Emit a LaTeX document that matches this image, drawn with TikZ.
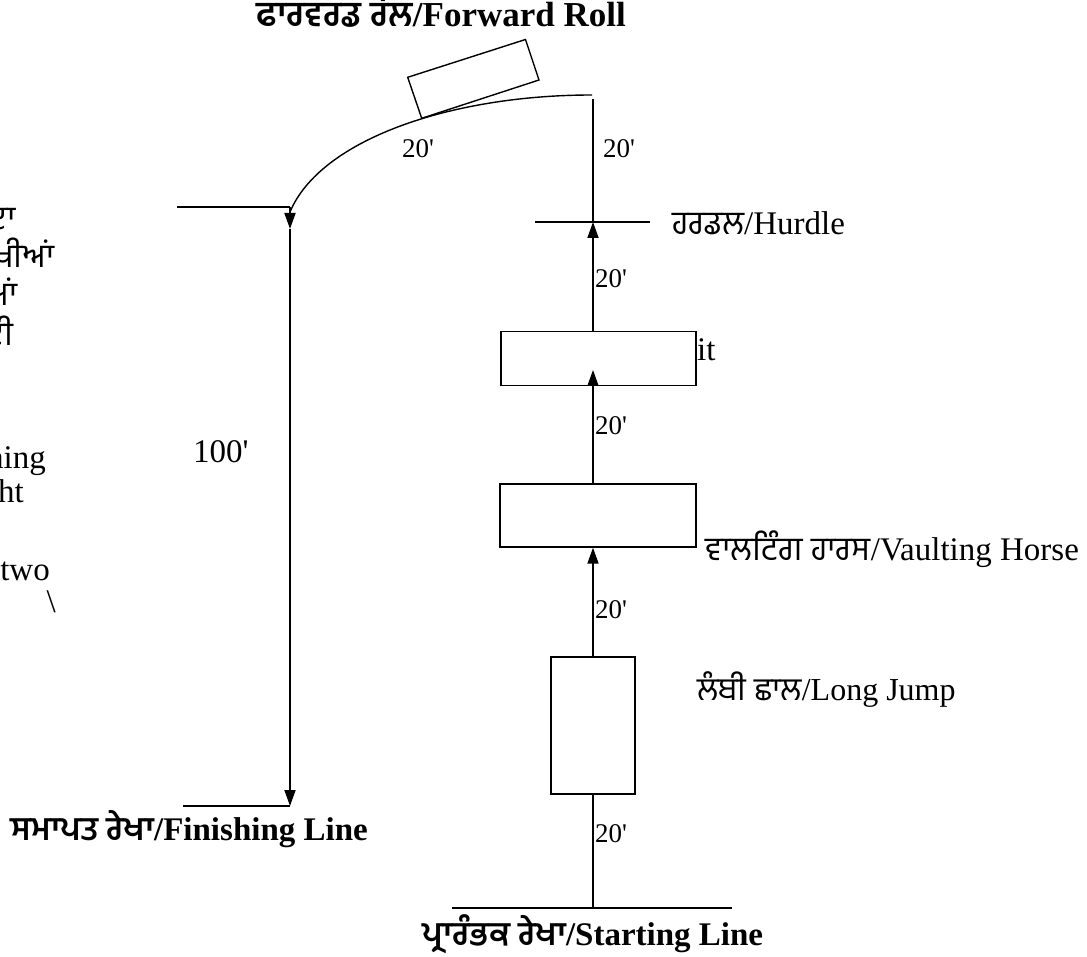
\documentclass[tikz,border=0pt]{standalone}
\usepackage{fontspec}
\setmainfont{Liberation Serif}[Ligatures=TeXOff]
\newfontfamily\pa[Script=Gurmukhi]{Hind Jalandhar}
\usetikzlibrary{arrows.meta}
\begin{document}
\begin{tikzpicture}[x=1pt,y=-1pt,
  ln/.style={line width=1.4pt},
  arr/.style={line width=1.8pt,-{Triangle[length=16pt,width=11pt]}},
  lbl/.style={inner sep=0pt,font=\fontsize{33}{38}\selectfont},
  ljl/.style={inner sep=0pt,font=\fontsize{32}{37}\selectfont},
  small/.style={inner sep=0pt,font=\fontsize{27}{32}\selectfont},
  bold/.style={inner sep=0pt,font=\fontsize{33}{38}\selectfont\bfseries},
  title/.style={inner sep=0pt,font=\fontsize{35}{40}\selectfont\bfseries},
  box/.style={draw,line width=1.4pt,fill=white,inner sep=0pt}]
\useasboundingbox (0,0) rectangle (1087,957);
% texts behind
\node[lbl,anchor=base west] (itlbl) at (697,361) {it};
% title
\node[title,anchor=base east] (ttl) at (626,27) {{\pa ਫਾਰਵਰਡ ਰੋਲ}/Forward Roll};
% mat
\draw[ln] (407.7,77.3) -- (525.5,39.5) -- (539,80) -- (421.7,118.3) -- cycle;
% curve
\coordinate (cs) at (290,212);
\coordinate (ce) at (592,95);
\draw[ln] (cs) .. controls (320,140) and (450,95) .. (ce);
% left lines
\coordinate (lt1) at (177,207);
\coordinate (lt2) at (290,207);
\coordinate (la) at (290,229);
\coordinate (lb) at (290,806);
\coordinate (lf1) at (183,806);
\draw[ln] (lt1) -- (lt2);
\draw[arr] (lt2) -- (la);
\draw[arr] (la) -- (lb);
\draw[ln] (lf1) -- (lb);
\node[lbl,anchor=base west] (hund) at (193,462) {100'};
\node[bold,anchor=base east] (finish) at (368,840) {{\pa ਸਮਾਪਤ ਰੇਖਾ}/Finishing Line};
% left clipped paragraph
\node[lbl,anchor=base east] (p1) at (16,230) {\pa ਹੁੰਦਾ};
\node[lbl,anchor=base east] (p2) at (55,268) {\pa ਰੱਖੀਆਂ};
\node[lbl,anchor=base east] (p3) at (18,306) {\pa ਦੂਰੀਆਂ};
\node[lbl,anchor=base east] (p4) at (14,346) {\pa ਦੀ};
\node[lbl,anchor=base east] (p5) at (46,468) {finishing};
\node[lbl,anchor=base east] (p6) at (24,502) {height};
\node[lbl,anchor=base east] (p7) at (50,580) {two};
\node[lbl,anchor=base east] (p8) at (56,612) {\textbackslash};
% right column
\coordinate (top) at (593,99);
\coordinate (hur) at (593,222);
\coordinate (h1) at (535,222);
\coordinate (h2) at (650,222);
\node[box,minimum width=195pt,minimum height=54pt] (b1) at (598.5,358.7) {};
\node[box,minimum width=196pt,minimum height=63pt] (b2) at (598,515.5) {};
\node[box,minimum width=84pt,minimum height=137pt] (b3) at (593,725.5) {};
\coordinate (a1) at (593,370);
\coordinate (st) at (593,908);
\coordinate (s1) at (452,908);
\coordinate (s2) at (732,908);
\draw[ln] (top) -- (hur);
\draw[ln] (h1) -- (h2);
\draw[arr] (593,331.7) -- (hur);
\draw[arr] (b2.north -| 593,0) -- (a1);
\draw[arr] (b3.north) -- (b2.south -| 593,0);
\draw[ln] (st) -- (b3.south);
\draw[ln] (s1) -- (s2);
% labels
\node[small,anchor=base west] (t1) at (402,158) {20'};
\node[small,anchor=base west] (t2) at (603,158) {20'};
\node[small,anchor=base west] (t3) at (595,288) {20'};
\node[small,anchor=base west] (t4) at (595,434) {20'};
\node[small,anchor=base west] (t5) at (595,618) {20'};
\node[small,anchor=base west] (t6) at (595,842) {20'};
\node[lbl,anchor=base west] (hl) at (672,235) {{\pa ਹਰਡਲ}/Hurdle};
\node[lbl,anchor=base west] (vh) at (705,560) {{\pa ਵਾਲਟਿੰਗ ਹਾਰਸ}/Vaulting Horse};
\node[ljl,anchor=base west] (lj) at (697,700) {{\pa ਲੰਬੀ ਛਾਲ}/Long Jump};
\node[bold,anchor=base] (start) at (593,945) {{\pa ਪ੍ਰਾਰੰਭਕ ਰੇਖਾ}/Starting Line};
\end{tikzpicture}
\end{document}
